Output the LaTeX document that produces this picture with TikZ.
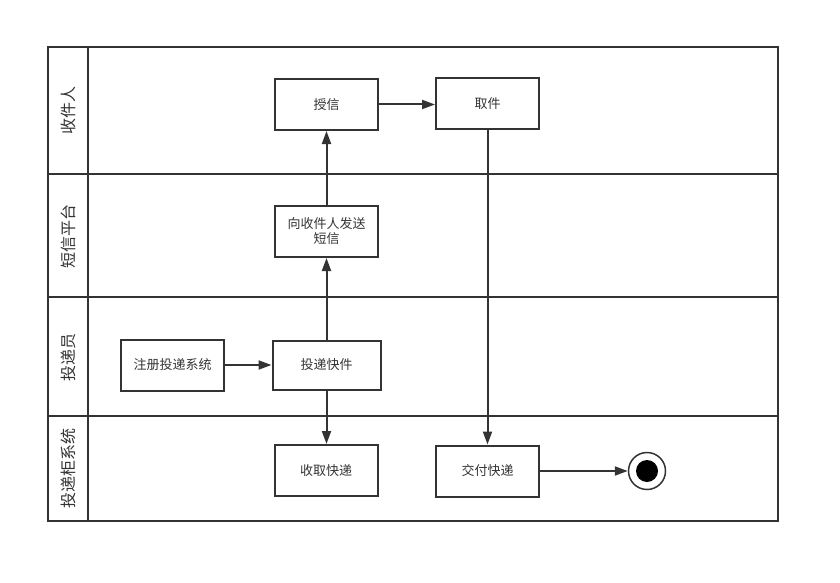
\documentclass[tikz,border=0pt]{standalone}
\usepackage{fontspec}
\newfontfamily\cjk{Noto Sans CJK SC}
\usetikzlibrary{arrows.meta,positioning}
\definecolor{ink}{HTML}{333333}

\begin{document}
\begin{tikzpicture}[
  x=1pt, y=-1pt,
  font=\cjk\fontsize{13}{15}\selectfont,
  box/.style={draw=ink, line width=2pt, minimum height=51pt, minimum width=103pt, align=center, text=ink},
  lane/.style={rotate=90, font=\cjk\fontsize{16}{18}\selectfont, text=ink},
  flow/.style={->, draw=ink, line width=2pt},
  >={Triangle[length=13pt,width=9pt]}]
  \useasboundingbox (0,0) rectangle (840,583);
  % lanes
  \draw[ink, line width=2pt] (48,47) rectangle (778,521);
  \draw[ink, line width=2pt] (88,47) -- (88,521);
  \draw[ink, line width=2pt] (48,174) -- (778,174);
  \draw[ink, line width=2pt] (48,297) -- (778,297);
  \draw[ink, line width=2pt] (48,416) -- (778,416);
  \node[lane] (l1) at (68,111) {收件人};
  \node[lane] (l2) at (68,236) {短信平台};
  \node[lane] (l3) at (68,357) {投递员};
  \node[lane] (l4) at (68,468) {投递柜系统};
  % activities
  \node[box] (shouxin) at (326.5,104.5) {授信};
  \node[box] (qujian) at (487.5,103.5) {取件};
  \node[box] (fasong) at (326.5,231.5) {向收件人发送\\短信};
  \node[box] (zhuce) at (172.5,365) {注册投递系统};
  \node[box, minimum width=108pt, minimum height=49pt] (toudi) at (326.5,365) {投递快件};
  \node[box] (shouqu) at (326,470.5) {收取快递};
  \node[box] (jiaofu) at (487.5,471) {交付快递};
  % end state
  \node[draw=ink, line width=1.5pt, circle, minimum size=37pt, inner sep=0pt] (done) at (647,471) {};
  \node[fill=black, circle, minimum size=22pt, inner sep=0pt] (dot) at (done.center) {};
  % flows
  \draw[flow] (zhuce.east) -- (toudi.west);
  \draw[flow] (toudi.north) -- (fasong.south);
  \draw[flow] (toudi.south) -- (toudi.south |- shouqu.north);
  \draw[flow] (fasong.north) -- (shouxin.south);
  \draw[flow] (shouxin.east) -- (qujian.west |- shouxin.east);
  \draw[flow] (qujian.south) -- (jiaofu.north);
  \draw[flow] (jiaofu.east) -- (done.west);
\end{tikzpicture}
\end{document}
